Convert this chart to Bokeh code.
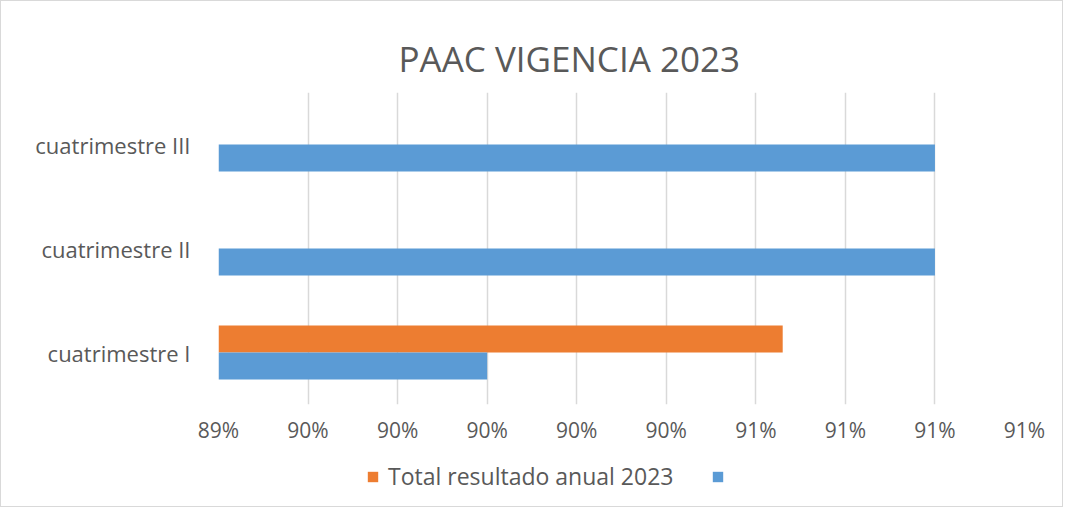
from bokeh.plotting import figure
from bokeh.layouts import column
from bokeh.models import FactorRange, Range1d, FixedTicker, Legend, LegendItem, ColumnDataSource
from bokeh.transform import dodge
from bokeh.embed import file_html
from bokeh.resources import INLINE

# ---- data ----
categories = ["cuatrimestre I", "cuatrimestre II", "cuatrimestre III"]
blue_values = [0.900, 0.910, 0.910]
orange_categories = ["cuatrimestre I"]
orange_values = [0.9066]
orange_name = "Total resultado anual 2023"
blue_name = " "
tick_values = [0.894, 0.896, 0.898, 0.900, 0.902, 0.904, 0.906, 0.908, 0.910, 0.912]
tick_labels = ["89%", "90%", "90%", "90%", "90%", "90%", "91%", "91%", "91%", "91%"]
axis_min = 0.894
axis_max = 0.912
title_text = "PAAC VIGENCIA 2023"

BLUE = "#5B9BD5"
ORANGE = "#ED7D31"
TEXT = "#595959"
FONT = "Open Sans"

blue_src = ColumnDataSource(dict(cat=categories, val=blue_values, base=[axis_min] * len(categories)))
orange_src = ColumnDataSource(dict(cat=orange_categories, val=orange_values, base=[axis_min] * len(orange_categories)))

p = figure(
    width=1061, height=450,
    y_range=FactorRange(*categories),
    x_range=Range1d(axis_min, axis_max),
    output_backend="svg", toolbar_location=None,
    min_border_left=217, min_border_right=38,
    min_border_top=91, min_border_bottom=47,
)

orange_r = p.hbar(y=dodge("cat", 0.13, range=p.y_range), left="base", right="val", height=0.26,
                  source=orange_src, fill_color=ORANGE, line_color=None)
blue_r = p.hbar(y=dodge("cat", -0.13, range=p.y_range), left="base", right="val", height=0.26,
                source=blue_src, fill_color=BLUE, line_color=None)

# title
p.title.text = title_text
p.title.align = "left"
p.title.offset = 180
p.title.text_font = FONT
p.title.text_font_size = "35px"
p.title.text_font_style = "normal"
p.title.text_color = TEXT
p.title.standoff = 22

# axes
p.xaxis.ticker = FixedTicker(ticks=tick_values)
p.xaxis.major_label_overrides = dict(zip(tick_values, tick_labels))
for ax in (p.xaxis, p.yaxis):
    ax.axis_line_color = None
    ax.major_tick_line_color = None
    ax.minor_tick_line_color = None
    ax.major_label_text_font = FONT
    ax.major_label_text_color = TEXT
p.xaxis.major_label_text_font_size = "21px"
p.xaxis.major_label_standoff = 5
p.yaxis.major_label_text_font_size = "22px"
p.yaxis.major_label_standoff = 22

p.xgrid.grid_line_color = "#d9d9d9"
p.xgrid.grid_line_width = 1.5
p.ygrid.grid_line_color = None
p.outline_line_color = None

# legend strip below the chart (swatch renderers are hidden; only their legend glyphs show)
p_leg = figure(
    width=1061, height=55,
    x_range=Range1d(0, 1), y_range=Range1d(0, 1),
    x_axis_type=None, y_axis_type=None,
    output_backend="svg", toolbar_location=None,
    min_border_left=0, min_border_right=0, min_border_top=0, min_border_bottom=0,
)
p_leg.outline_line_color = None
p_leg.grid.grid_line_color = None
leg_orange = p_leg.hbar(y=[0.5], left=[0], right=[1], height=0.5,
                        fill_color=ORANGE, line_color=None, visible=False)
leg_blue = p_leg.hbar(y=[0.5], left=[0], right=[1], height=0.5,
                      fill_color=BLUE, line_color=None, visible=False)

legend = Legend(
    items=[LegendItem(label=orange_name, renderers=[leg_orange]),
           LegendItem(label=blue_name, renderers=[leg_blue])],
    orientation="horizontal",
    location=(148, 14),
    padding=0, margin=0, spacing=38,
    glyph_width=13, glyph_height=13, label_standoff=9,
    label_text_font=FONT, label_text_font_size="23px", label_text_color=TEXT,
    border_line_color=None, background_fill_alpha=0,
    inactive_fill_alpha=0,
)
p_leg.add_layout(legend, "center")

layout = column(p, p_leg, spacing=0, styles={"border": "1px solid #d9d9d9"})

open("out.html", "w").write(file_html(layout, INLINE))
